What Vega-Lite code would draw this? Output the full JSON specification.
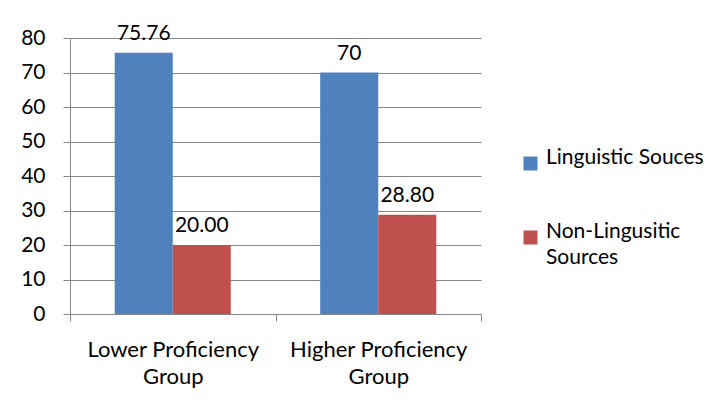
{
  "$schema": "https://vega.github.io/schema/vega-lite/v6.json",
  "width": 411,
  "height": 276,
  "autosize": {"type": "none"},
  "padding": {"left": 70, "top": 38, "right": 238, "bottom": 86},
  "background": "white",
  "config": {
    "view": {"stroke": null},
    "font": "Lato",
    "text": {"font": "Lato"},
    "style": {"guide-label": {"lineHeight": 26}}
  },
  "data": {
    "values": [
      {"group": "Lower Proficiency Group", "source": "Linguistic Souces", "value": 75.76, "label": "75.76"},
      {"group": "Lower Proficiency Group", "source": "Non-Lingusitic Sources", "value": 20.0, "label": "20.00"},
      {"group": "Higher Proficiency Group", "source": "Linguistic Souces", "value": 70, "label": "70"},
      {"group": "Higher Proficiency Group", "source": "Non-Lingusitic Sources", "value": 28.8, "label": "28.80"}
    ]
  },
  "encoding": {
    "x": {
      "field": "group",
      "type": "nominal",
      "sort": null,
      "scale": {"paddingInner": 0, "paddingOuter": 0},
      "axis": {
        "title": null,
        "labelAngle": 0,
        "labelFont": "Lato",
        "labelFontSize": 22,
        "labelColor": "#000000",
        "labelExpr": "datum.label ? [replace(datum.label, ' Group', ''), 'Group'] : ''",
        "labelLineHeight": 27,
        "labelPadding": 18,
        "tickBand": "extent",
        "tickSize": 7,
        "tickColor": "#868686",
        "domainColor": "#868686",
        "grid": false
      }
    },
    "xOffset": {
      "field": "source",
      "type": "nominal",
      "sort": null,
      "scale": {"paddingInner": 0, "paddingOuter": 0.77}
    },
    "y": {
      "field": "value",
      "type": "quantitative",
      "scale": {"domain": [0, 80], "nice": false},
      "axis": {
        "title": null,
        "values": [0, 10, 20, 30, 40, 50, 60, 70, 80],
        "labelFont": "Lato",
        "labelFontSize": 21,
        "labelColor": "#000000",
        "labelPadding": 18,
        "tickSize": 7,
        "tickColor": "#868686",
        "domainColor": "#868686",
        "gridColor": "#868686",
        "grid": true
      }
    }
  },
  "layer": [
    {
      "mark": {"type": "bar"},
      "encoding": {
        "color": {
          "field": "source",
          "type": "nominal",
          "sort": null,
          "scale": {"domain": ["Linguistic Souces", "Non-Lingusitic Sources"], "range": ["#4F81BD", "#C0504D"]},
          "legend": {
            "title": null,
            "orient": "none",
            "legendX": 450,
            "legendY": 115,
            "symbolType": "square",
            "symbolSize": 196,
            "symbolStrokeWidth": 0,
            "labelFont": "Lato",
            "labelFontSize": 21,
            "labelColor": "#000000",
            "labelBaseline": "alphabetic",
            "labelExpr": "datum.label == 'Non-Lingusitic Sources' ? ['Non-Lingusitic', 'Sources'] : datum.label",
            "labelLimit": 300,
            "rowPadding": 49,
            "labelOffset": 5
          }
        }
      }
    },
    {
      "mark": {"type": "text", "baseline": "alphabetic", "dy": -13, "fontSize": 21, "font": "Lato", "color": "#000000"},
      "encoding": {"text": {"field": "label"}}
    }
  ]
}
